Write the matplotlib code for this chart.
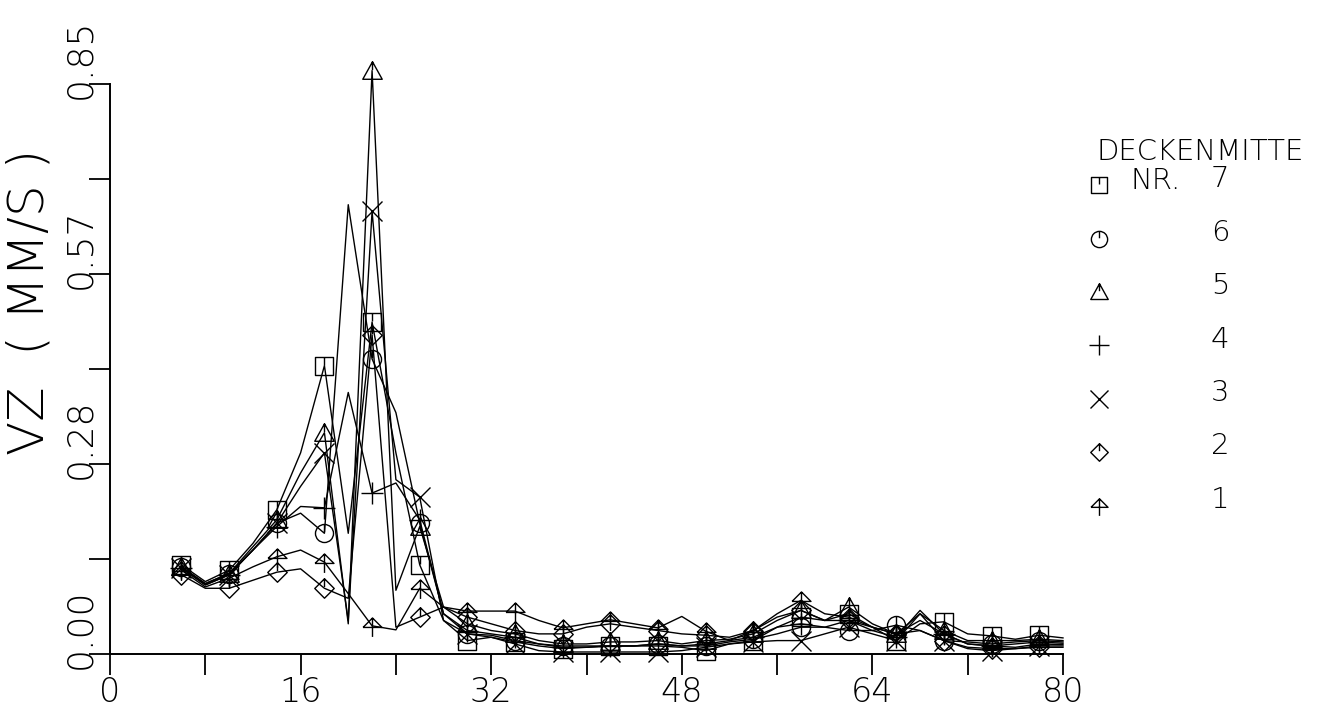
import numpy as np
import matplotlib
matplotlib.use("Agg")
import matplotlib.pyplot as plt
from matplotlib.path import Path
from matplotlib.lines import Line2D
from matplotlib.transforms import offset_copy, blended_transform_factory

# positions along the slab (every 2 units, markers on every other point)
x = [6, 8, 10, 12, 14, 16, 18, 20, 22, 24, 26, 28, 30, 32, 34, 36, 38, 40, 42,
     44, 46, 48, 50, 52, 54, 56, 58, 60, 62, 64, 66, 68, 70, 72, 74, 76, 78, 80]

# VZ (mm/s) per measuring point
nr7 = [.133, .108, .125, .165, .215, .30, .43, .18, .495, .30, .133, .05, .02, .025, .018, .012, .008, .01, .012,
       .012, .012, .01, .005, .015, .02, .04, .055, .05, .06, .04, .02, .045, .048, .03, .027, .022, .028, .024]
nr6 = [.13, .105, .12, .155, .195, .21, .18, .67, .44, .36, .195, .06, .03, .028, .02, .015, .012, .012, .012,
       .012, .015, .012, .012, .018, .022, .03, .04, .04, .035, .035, .043, .035, .02, .018, .015, .018, .02, .018]
nr5 = [.13, .105, .12, .16, .20, .27, .33, .045, .87, .095, .19, .07, .045, .035, .03, .02, .015, .015, .018,
       .018, .02, .015, .02, .022, .03, .05, .065, .05, .07, .045, .03, .06, .035, .02, .02, .02, .022, .02]
nr4 = [.128, .103, .118, .155, .19, .22, .218, .39, .24, .255, .20, .06, .035, .03, .025, .015, .01, .01, .012,
       .012, .015, .012, .015, .02, .025, .04, .045, .04, .05, .035, .025, .065, .03, .015, .012, .015, .018, .016]
nr3 = [.128, .103, .118, .155, .195, .25, .30, .05, .66, .26, .234, .05, .03, .025, .015, .005, .003, .003, .003,
       .003, .003, .005, .01, .015, .018, .02, .02, .03, .04, .03, .02, .06, .02, .008, .005, .008, .012, .012]
nr2 = [.118, .098, .098, .11, .122, .127, .098, .083, .476, .04, .055, .07, .055, .045, .035, .03, .03, .04, .045,
       .04, .035, .03, .028, .025, .035, .055, .065, .05, .05, .04, .03, .035, .02, .01, .008, .008, .01, .01]
nr1 = [.125, .10, .113, .13, .145, .155, .137, .09, .042, .036, .098, .07, .064, .064, .064, .05, .039, .045, .051,
       .045, .039, .056, .034, .02, .035, .06, .08, .06, .055, .04, .03, .05, .03, .015, .012, .01, .015, .014]

series = [nr7, nr6, nr5, nr4, nr3, nr2, nr1]
numbers = ["7", "6", "5", "4", "3", "2", "1"]

x_ticks = list(range(0, 81, 8))
x_labels = ["0", "", "16", "", "32", "", "48", "", "64", "", "80"]
y_ticks = [0.85 * i / 6 for i in range(7)]
y_label_vals = [0.0, 0.85 / 3, 0.85 * 2 / 3, 0.85]
y_label_txt = ["0.00", "0.28", "0.57", "0.85"]

M, L, C = Path.MOVETO, Path.LINETO, Path.CLOSEPOLY


def with_stem(outline, top):
    stem = Path([(0, top), (0, 0.15)], [M, L])
    return Path.make_compound_path(outline, stem)


sq = with_stem(Path([(-1, -1), (1, -1), (1, 1), (-1, 1), (-1, -1)], [M, L, L, L, C]), 1)
ci = with_stem(Path.unit_circle(), 1)
tri = with_stem(Path([(-1, -0.8), (1, -0.8), (0, 1), (-1, -0.8)], [M, L, L, C]), 1)
dia = with_stem(Path([(0, -1), (1, 0), (0, 1), (-1, 0), (0, -1)], [M, L, L, L, C]), 1)
arrow = Path([(-1, -0.1), (0, 0.9), (1, -0.1), (-1, -0.1), (0, 0.9), (0, -1.1)], [M, L, L, L, M, L])
markers = [sq, ci, tri, "+", "x", dia, arrow]
sizes = [13, 13, 14, 16, 14, 14, 15]

plt.rcParams["font.family"] = "DejaVu Sans"

fig = plt.figure(figsize=(13.24, 7.12), dpi=100)
ax = fig.add_axes([110 / 1324, 58 / 712, 953 / 1324, 570 / 712])

for vals, mk, ms in zip(series, markers, sizes):
    ax.plot(x, vals, color="black", lw=1.0, marker=mk, markevery=2, ms=ms,
            mfc="none", mec="black", mew=1.0, clip_on=False)

ax.set_xlim(0, 80)
ax.set_ylim(0, 0.85)
for s in ["top", "right"]:
    ax.spines[s].set_visible(False)
for s in ["left", "bottom"]:
    ax.spines[s].set_linewidth(1.4)

ax.set_xticks(x_ticks)
ax.set_xticklabels(x_labels, fontsize=24, fontweight="light")
ax.set_yticks(y_ticks)
ax.set_yticklabels([])
ax.tick_params(axis="both", direction="out", length=15, width=1.3, color="black")
ax.tick_params(axis="x", pad=1)

trans = blended_transform_factory(ax.transAxes, ax.transData)
trans = offset_copy(trans, fig=fig, x=0, y=-15, units="dots")
for v, t in zip(y_label_vals, y_label_txt):
    ax.text(-0.0315, v, t, transform=trans, rotation=90, ha="center", va="bottom",
            fontsize=26, fontweight="light")

fig.text(30 / 1324, 1 - 302 / 712, "VZ  ( MM/S )", rotation=90, ha="center", va="center",
         fontsize=36, fontweight="light")

# legend on the right
fig.text(1097 / 1324, 1 - 152 / 712, "DECKENMITTE", ha="left", va="center", fontsize=21,
         fontweight="light")
fig.text(1130 / 1324, 1 - 181 / 712, "NR.", ha="left", va="center", fontsize=21, fontweight="light")
for i, (num, mk, ms) in enumerate(zip(numbers, markers, sizes)):
    yy = 1 - (185 + i * 53.5) / 712
    fig.add_artist(Line2D([1099 / 1324], [yy], transform=fig.transFigure, marker=mk,
                          ms=ms * 0.9, mfc="none", mec="black", mew=1.0, ls="none"))
    fig.text(1220 / 1324, yy + 6 / 712, num, ha="center", va="center", fontsize=21,
             fontweight="light")

fig.savefig("out.png", dpi=100, facecolor="white")
